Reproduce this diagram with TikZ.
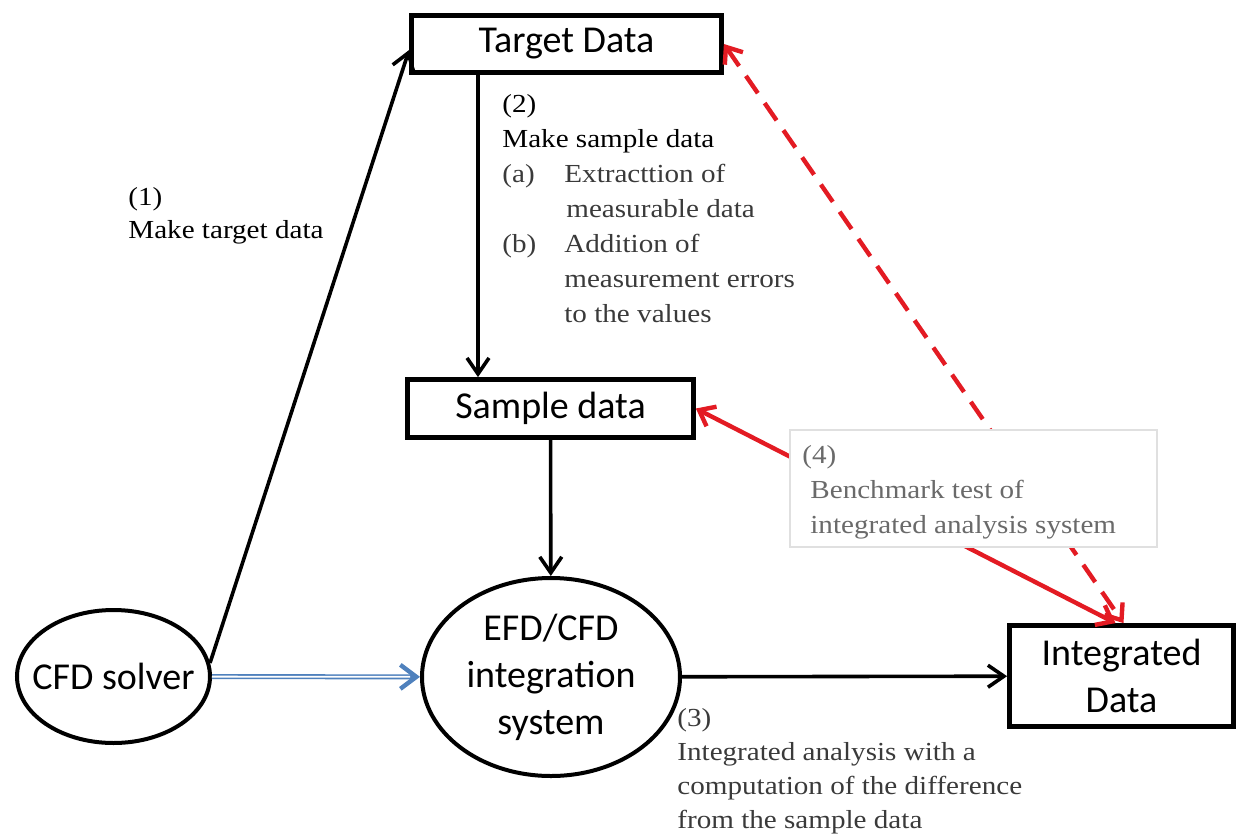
\documentclass[tikz,border=0pt]{standalone}
\usepackage{fontspec}
\setmainfont{Liberation Serif}
\newfontfamily\calfont{Carlito}
\newfontfamily\tnrfont[FakeStretch=1.12]{Liberation Serif}
\usetikzlibrary{arrows.meta,shapes.geometric,calc}
\definecolor{arrowred}{HTML}{E31B23}
\definecolor{solverblue}{HTML}{4F81BD}
\definecolor{labelgray}{HTML}{6A6A6A}
\definecolor{itemgray}{HTML}{3A3A3A}
\definecolor{boxgray}{HTML}{E0E0E0}
\begin{document}
\begin{tikzpicture}[x=0.5pt,y=-0.5pt,
  box/.style={draw=black, line width=2.4pt, fill=white, inner sep=0pt,
    font=\calfont\fontsize{19}{23.5}\selectfont, align=center},
  oval/.style={ellipse, draw=black, line width=2pt, fill=white, inner sep=0pt,
    font=\calfont\fontsize{19}{23.5}\selectfont, align=center},
  flow/.style={line width=1.8pt, -{Straight Barb[length=8pt,width=11pt]}},
  bluelink/.style={draw=solverblue, line width=2.5pt,
    -{Straight Barb[length=8pt,width=12pt,line width=2.2pt]},
    postaction={draw=white, line width=0.9pt, arrows=-, shorten >=5pt}},
  redlink/.style={draw=arrowred, line width=2.2pt,
    {Straight Barb[length=7pt,width=11pt]}-{Straight Barb[length=7pt,width=11pt]}},
  note/.style={inner sep=0pt, anchor=base west, align=left,
    font=\tnrfont\fontsize{13}{17.5}\selectfont},
]
\useasboundingbox (0,0) rectangle (1239,836);

% nodes
\node[box, minimum width=155pt, minimum height=28.5pt] (target) at (566.5,44) {Target Data};
\node[box, minimum width=143pt, minimum height=29pt] (sample) at (550.5,408.5) {Sample data};
\node[box, minimum width=112pt, minimum height=50.5pt] (integ) at (1121.5,676) {Integrated\\Data};
\node[oval, inner xsep=-7pt, minimum width=96.5pt, minimum height=66.5pt] (cfd) at (113.5,676.5) {CFD solver};
\node[oval, minimum width=129pt, minimum height=99pt] (efd) at (551,677) {EFD/CFD\\integration\\system};

\coordinate (xtwo) at (478,0);

% black connectors
\draw[flow] (cfd.8) -- ([yshift=-3pt]target.west);
\draw[flow] (target.south -| xtwo) -- (sample.north -| xtwo);
\draw[flow] (sample) -- (efd);
\draw[flow] (efd) -- (integ);

% blue double connector
\draw[bluelink] (cfd) -- (efd);

% red connectors
\draw[redlink] (sample.east) -- ([xshift=-3pt]integ.north);
\draw[redlink, dash pattern=on 10.5pt off 6pt] (target.east) -- ([xshift=1pt]integ.north);

% label (4) box over the red lines
\node[draw=boxgray, line width=0.6pt, fill=white, minimum width=183.5pt,
  minimum height=58.5pt, inner sep=0pt] (bench) at (973.5,488.5) {};

% notes (anchor = baseline of the last line)
\node[note, font=\tnrfont\fontsize{13}{16.5}\selectfont] (n1) at (128,238) {(1)\\Make target data};
\node[note] (n2) at (502,322) {(2)\\Make sample data\\
  \textcolor{itemgray}{\makebox[31pt][l]{(a)}Extracttion of}\\
  \textcolor{itemgray}{\hspace*{32pt}measurable data}\\
  \textcolor{itemgray}{\makebox[31pt][l]{(b)}Addition of}\\
  \textcolor{itemgray}{\hspace*{31pt}measurement errors}\\
  \textcolor{itemgray}{\hspace*{31pt}to the values}};
\node[note, text=itemgray, font=\tnrfont\fontsize{13}{17}\selectfont] (n3) at (677,828) {(3)\\Integrated analysis with a\\computation of the difference\\from the sample data};
\node[note, text=labelgray] (n4) at (802,533) {(4)\\\hspace*{4pt}Benchmark test of\\\hspace*{4pt}integrated analysis system};
\end{tikzpicture}
\end{document}
